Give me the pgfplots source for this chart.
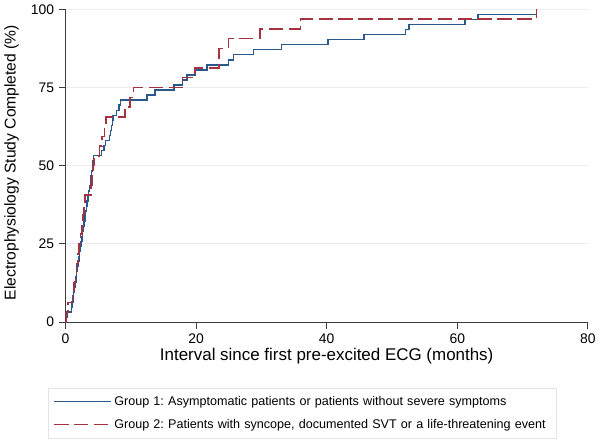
\documentclass[border=0pt]{standalone}
\usepackage{fontspec}
\setmainfont{Liberation Sans}
\usepackage{pgfplots}
\pgfplotsset{compat=1.18}
\frenchspacing

\definecolor{grpone}{RGB}{40,88,140}
\definecolor{grptwo}{RGB}{165,50,65}
\definecolor{gridc}{RGB}{234,238,242}
\definecolor{axisc}{RGB}{60,60,60}

\begin{document}
\begin{tikzpicture}
\begin{axis}[
    scale only axis,
    width=394.5pt, height=236.25pt,
    xmin=0, xmax=80, ymin=0, ymax=100,
    xtick={0,20,40,60,80},
    ytick={0,25,50,75,100},
    axis x line=bottom, axis y line=left,
    axis line style={-, axisc, line width=0.9pt},
    tick style={axisc, line width=0.8pt},
    tick align=outside,
    major tick length=5pt,
    ymajorgrids,
    grid style={gridc, line width=0.8pt},
    /pgf/number format/assume math mode=true,
    ticklabel style={font=\fontsize{10.5}{12}\selectfont, text=black},
    xlabel={Interval since first pre-excited ECG (months)},
    ylabel={Electrophysiology Study Completed (\%)},
    xlabel style={font=\fontsize{12.8}{14}\selectfont, at={(axis description cs:0.5,-0.108)}, anchor=center},
    ylabel style={font=\fontsize{11.8}{14}\selectfont, at={(axis description cs:-0.103,0.51)}, anchor=center},
    legend style={at={(axis description cs:-0.0342,-0.2095)}, anchor=north west,
        draw={rgb,255:red,225;green,228;blue,232}, line width=0.5pt,
        font=\fontsize{9.5}{11}\selectfont,
        inner xsep=4pt, inner ysep=4pt,
        row sep=5pt,
        text width=328pt},
    legend cell align=left,
    legend image code/.code={\draw[#1, line width=1.1pt] (0pt,0pt) -- (43pt,0pt);},
]

% Group 1 (n about 62, steps of 1/62)
\addplot[const plot, color=grpone, line width=1.1pt] coordinates {
    (0,0) (0.15,1.61) (0.25,3.23)
    (0.90,4.84) (1.02,6.45) (1.12,8.06) (1.25,9.68) (1.35,11.29)
    (1.45,12.90) (1.58,14.52) (1.70,16.13) (1.80,17.74) (1.92,19.35)
    (2.05,20.97) (2.15,22.58) (2.28,24.19) (2.40,25.81) (2.50,27.42)
    (2.62,29.03) (2.75,30.65) (2.85,32.26) (2.98,33.87) (3.10,35.48)
    (3.20,37.10) (3.32,38.71) (3.45,40.32) (3.55,41.94) (3.68,43.55)
    (3.80,45.16) (3.90,46.77) (4.02,48.39) (4.12,50.00) (4.22,51.61)
    (4.32,53.23) (5.50,54.84) (5.90,56.45) (6.10,58.06) (6.70,59.68)
    (6.90,61.29) (7.05,62.90) (7.20,64.52) (7.30,66.13) (7.80,67.74)
    (8.20,69.35) (8.40,70.97) (12.5,72.58) (13.7,74.19) (16.6,75.81)
    (17.9,77.42) (18.6,79.03) (19.8,80.65) (21.7,82.26) (25.0,83.87)
    (25.7,85.48) (28.8,87.10) (33.1,88.71) (40.2,90.32) (45.7,91.94)
    (52.1,93.55) (52.6,95.16) (61.2,96.77) (63.2,98.39) (72.1,100)
    (72.2,100)
};
\addlegendentry{Group 1: Asymptomatic patients or patients without severe symptoms}

% Group 2 (n about 32, steps of 1/32)
\addplot[const plot, color=grptwo, line width=1.1pt,
    dash pattern=on 11pt off 4pt] coordinates {
    (0,0) (0.10,3.125) (0.40,6.25)
    (1.10,9.375) (1.30,12.5) (1.50,15.625) (1.70,18.75) (1.90,21.875)
    (2.10,25.0) (2.30,28.125) (2.50,31.25) (2.70,34.375) (2.85,37.5)
    (3.00,40.625) (3.90,43.75) (4.05,46.875) (4.20,50.0) (4.40,53.125)
    (5.20,56.25) (5.60,59.375) (6.00,62.5) (6.20,65.625) (9.10,68.75)
    (9.90,71.875) (10.4,75.0) (17.9,78.125) (19.8,81.25) (23.5,87.5)
    (25.0,90.625) (29.8,93.75) (36.0,96.875) (72.1,100) (72.2,100)
};
\addlegendentry{Group 2: Patients with syncope, documented SVT or a life-threatening event}

\end{axis}
\useasboundingbox (-48pt,-88.5pt) rectangle (402pt,241.5pt);
\end{tikzpicture}
\end{document}
